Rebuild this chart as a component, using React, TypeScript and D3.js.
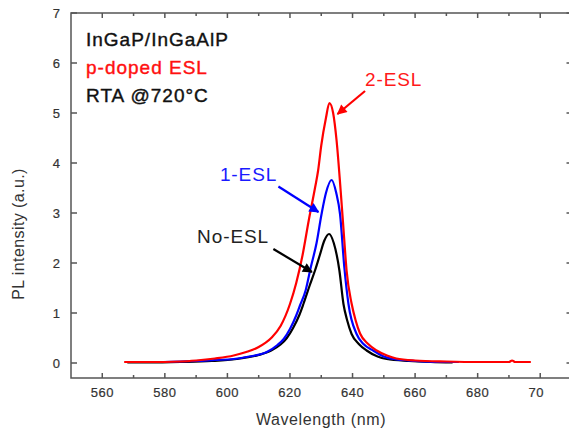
import React from "react";
import * as d3 from "d3";

const W = 569;
const H = 438;

// 2-ESL (red)
const redWl = [567, 575, 585, 590, 596, 602, 606, 610, 614, 617, 620, 622, 624, 626, 628, 629, 630, 631.5, 632.6, 633.8, 634.9, 636.2, 637.2, 638.1, 639.7, 641, 642.4, 645, 647.7, 651, 654, 660, 670, 680, 690, 691, 692, 697];
const redVal = [0.02, 0.02, 0.03, 0.05, 0.09, 0.15, 0.22, 0.32, 0.5, 0.74, 1.18, 1.6, 2.15, 2.85, 3.5, 3.85, 4.35, 4.9, 5.2, 5.0, 4.45, 3.45, 2.6, 1.85, 1.19, 0.85, 0.59, 0.38, 0.25, 0.15, 0.09, 0.05, 0.03, 0.02, 0.02, 0.05, 0.02, 0.02];

// 1-ESL (blue)
const blueWl = [568, 575, 585, 590, 596, 602, 607, 612.6, 616, 618, 620, 622, 623.2, 625, 626.6, 628.5, 630.1, 631.5, 633.3, 634.8, 636.0, 637.4, 638.7, 641.3, 643.5, 646.6, 650, 653, 660, 667, 674];
const blueVal = [0.02, 0.02, 0.03, 0.04, 0.06, 0.08, 0.13, 0.22, 0.36, 0.48, 0.68, 0.95, 1.15, 1.45, 1.9, 2.4, 2.98, 3.4, 3.66, 3.4, 2.98, 1.9, 1.18, 0.58, 0.38, 0.25, 0.13, 0.08, 0.04, 0.02, 0.02];

// No-ESL (black)
const blackWl = [568, 575, 585, 595, 603, 610, 614, 617, 619, 621, 623, 624.3, 626.3, 628.0, 629.5, 631, 632.5, 634, 635.8, 637.1, 638.3, 639.7, 642, 644.5, 648, 650.9, 658, 665, 672];
const blackVal = [0.01, 0.01, 0.02, 0.04, 0.08, 0.16, 0.25, 0.37, 0.5, 0.7, 0.96, 1.18, 1.55, 1.85, 2.15, 2.45, 2.58, 2.4, 1.85, 1.18, 0.85, 0.58, 0.38, 0.25, 0.13, 0.08, 0.04, 0.02, 0.01];

const xMajor = [560, 580, 600, 620, 640, 660, 680, 700];
const xTickLabels = ["560", "580", "600", "620", "640", "660", "680", "700"];
const xMinor = [570, 590, 610, 630, 650, 670, 690, 710];
const yMajor = [0, 1, 2, 3, 4, 5, 6, 7];
const yTickLabels = ["0", "1", "2", "3", "4", "5", "6", "7"];

const infoLines = ["InGaP/InGaAlP", "p-doped ESL", "RTA @720°C"];
const infoColors = ["#111", "#ff1010", "#111"];

// annotations: label anchor and arrow (data units)
const seriesLabels = ["2-ESL", "1-ESL", "No-ESL"];
const labelColors = ["#ff1a1a", "#1a1aff", "#222"];
const labelPos = [[644.0, 5.55], [597.6, 3.65], [590.3, 2.41]];
const arrowFrom = [[644.0, 5.44], [616.3, 3.53], [614.7, 2.28]];
const arrowTo = [[635.2, 4.98], [629.1, 3.02], [627.0, 1.82]];

const FONT = "'Liberation Sans', Arial, sans-serif";

export default function App() {
  const x = d3.scaleLinear().domain([550, 710]).range([71, 571.5]);
  const y = d3.scaleLinear().domain([-0.3, 7]).range([378, 13]);
  const line = d3
    .line<[number, number]>()
    .x((d) => x(d[0]))
    .y((d) => y(d[1]))
    .curve(d3.curveMonotoneX);

  const series = [
    { wl: blackWl, v: blackVal, color: "#000000" },
    { wl: blueWl, v: blueVal, color: "#0000ff" },
    { wl: redWl, v: redVal, color: "#ff0000" },
  ];

  const axisColor = "#555";
  const left = x.range()[0];
  const right = x.range()[1];
  const top = y.range()[1];
  const bottom = y.range()[0];

  const arrowColors = ["#ff0000", "#0000ff", "#000000"];

  return (
    <svg
      width={W}
      height={H}
      style={{ position: "absolute", left: 0, top: 0, background: "#fff" }}
      fontFamily={FONT}
    >
      <defs>
        {arrowColors.map((c, i) => (
          <marker
            key={i}
            id={`ah${i}`}
            viewBox="0 0 10 10"
            refX="9"
            refY="5"
            markerWidth="5"
            markerHeight="4.5"
            orient="auto"
            markerUnits="strokeWidth"
          >
            <path d="M0,0 L10,5 L0,10 z" fill={c} />
          </marker>
        ))}
        <clipPath id="lblclip">
          <rect x={0} y={0} width={544} height={H} />
        </clipPath>
      </defs>
      <rect x={0} y={0} width={W} height={H} fill="#fff" />

      {/* frame */}
      <rect
        x={left}
        y={top}
        width={right - left}
        height={bottom - top}
        fill="none"
        stroke={axisColor}
        strokeWidth={1.5}
      />

      {/* x ticks bottom and top */}
      {xMajor.map((t) => (
        <g key={`xm${t}`}>
          <line x1={x(t)} x2={x(t)} y1={bottom} y2={bottom - 5} stroke={axisColor} strokeWidth={1.5} />
          <line x1={x(t)} x2={x(t)} y1={top} y2={top + 5} stroke={axisColor} strokeWidth={1.5} />
        </g>
      ))}
      {xMinor.map((t) => (
        <g key={`xn${t}`}>
          <line x1={x(t)} x2={x(t)} y1={bottom} y2={bottom - 3} stroke={axisColor} strokeWidth={1.5} />
          <line x1={x(t)} x2={x(t)} y1={top} y2={top + 3} stroke={axisColor} strokeWidth={1.5} />
        </g>
      ))}
      <g clipPath="url(#lblclip)">
        {xMajor.map((t, i) => (
          <text
            key={`xl${t}`}
            x={x(t)}
            y={397}
            textAnchor="middle"
            fontSize={13}
            letterSpacing={0.5}
            fill="#333"
            stroke="#333"
            strokeWidth={0.2}
          >
            {xTickLabels[i]}
          </text>
        ))}
      </g>

      {/* y ticks */}
      {yMajor.map((t, i) => (
        <g key={`ym${t}`}>
          <line x1={left} x2={left + 6} y1={y(t)} y2={y(t)} stroke={axisColor} strokeWidth={1.5} />
          <line x1={right} x2={right - 5} y1={y(t)} y2={y(t)} stroke={axisColor} strokeWidth={1.5} />
          <text
            x={60}
            y={y(t) + 4.5}
            textAnchor="end"
            fontSize={13}
            fill="#333"
            stroke="#333"
            strokeWidth={0.2}
          >
            {yTickLabels[i]}
          </text>
        </g>
      ))}

      {/* axis titles */}
      <text x={321} y={425} textAnchor="middle" fontSize={16} letterSpacing={0.6} fill="#333">
        Wavelength (nm)
      </text>
      <text
        transform={`translate(24,234) rotate(-90)`}
        textAnchor="middle"
        fontSize={16}
        letterSpacing={0.4}
        fill="#333"
      >
        PL intensity (a.u.)
      </text>

      {/* curves */}
      {series.map((s, i) => (
        <path
          key={i}
          d={line(s.wl.map((w, j) => [w, s.v[j]] as [number, number])) || ""}
          fill="none"
          stroke={s.color}
          strokeWidth={2.2}
          strokeLinejoin="round"
        />
      ))}

      {/* info text */}
      {infoLines.map((t, i) => (
        <text
          key={i}
          x={86}
          y={46 + i * 28}
          fontSize={19}
          letterSpacing={1}
          fill={infoColors[i]}
          stroke={infoColors[i]}
          strokeWidth={0.4}
        >
          {t}
        </text>
      ))}

      {/* series labels and arrows */}
      {seriesLabels.map((t, i) => (
        <g key={t}>
          <text
            x={x(labelPos[i][0])}
            y={y(labelPos[i][1])}
            fontSize={19}
            letterSpacing={0.9}
            fill={labelColors[i]}
          >
            {t}
          </text>
          <line
            x1={x(arrowFrom[i][0])}
            y1={y(arrowFrom[i][1])}
            x2={x(arrowTo[i][0])}
            y2={y(arrowTo[i][1])}
            stroke={arrowColors[i]}
            strokeWidth={2.2}
            markerEnd={`url(#ah${i})`}
          />
        </g>
      ))}
    </svg>
  );
}
